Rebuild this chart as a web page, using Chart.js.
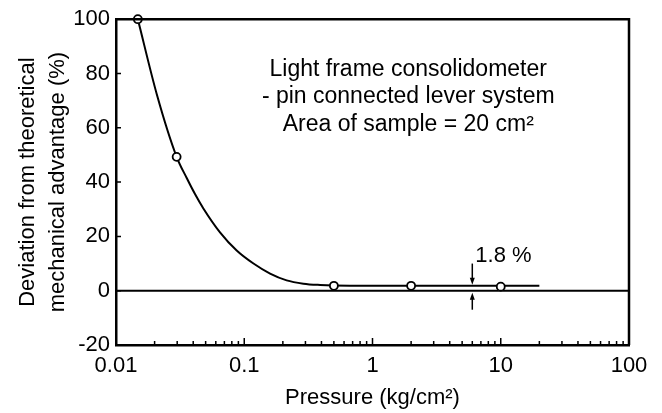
<!DOCTYPE html>
<html>
<head>
<meta charset="utf-8">
<script src="https://cdn.jsdelivr.net/npm/chart.js@4.4.1/dist/chart.umd.min.js"></script>
<style>
  html, body { margin: 0; padding: 0; background: #fff; }
  canvas { display: block; }
</style>
</head>
<body>
<canvas id="chart" width="662" height="413"></canvas>
<script>
const xTickValues = [0.01, 0.1, 1, 10, 100];
const xTickLabels = ['0.01', '0.1', '1', '10', '100'];
const yTickValues = [-20, 0, 20, 40, 60, 80, 100];

// curve
const curveX = [0.0148, 0.0209, 0.0297, 0.0356, 0.0413, 0.048, 0.0647, 0.0873, 0.118, 0.159, 0.214, 0.289, 0.39, 0.5, 1, 2, 5, 10, 20];
const curveY = [100, 72, 49.3, 41.5, 35.6, 30.3, 21.5, 14.8, 10.0, 6.3, 3.8, 2.6, 2.1, 1.9, 1.8, 1.8, 1.8, 1.8, 1.8];

// measured points
const pointX = [0.0148, 0.0297, 0.5, 2, 10];
const pointY = [100, 49.3, 1.8, 1.8, 1.5];

const noteLines = ['Light frame consolidometer', '- pin connected lever system', 'Area of sample = 20 cm\u00b2'];
const gapLabel = '1.8 %';
const gapX = 6;
const gapTop = 1.8;
const gapBottom = 0;

const FONT = "'Liberation Sans', Arial, Helvetica, sans-serif";
Chart.defaults.font.family = FONT;
Chart.defaults.color = '#000';

// minor ticks 2..9 in every decade
const xMinor = [];
xTickValues.slice(0, -1).forEach(d => {
  for (let m = 2; m <= 9; m++) xMinor.push(d * m);
});

function arrow(ctx, x, y0, y1) {
  const dir = y1 > y0 ? 1 : -1;
  ctx.beginPath();
  ctx.moveTo(x, y0);
  ctx.lineTo(x, y1 - dir * 5);
  ctx.stroke();
  ctx.beginPath();
  ctx.moveTo(x, y1);
  ctx.lineTo(x - 2.5, y1 - dir * 7);
  ctx.lineTo(x + 2.5, y1 - dir * 7);
  ctx.closePath();
  ctx.fill();
}

const decor = {
  id: 'decor',
  afterDraw(chart) {
    const { ctx, chartArea: a } = chart;
    const xs = chart.scales.x, ys = chart.scales.y;
    ctx.save();
    ctx.strokeStyle = '#000';
    ctx.fillStyle = '#000';

    // top and right frame
    ctx.lineWidth = 2.5;
    ctx.beginPath();
    ctx.moveTo(a.left, a.top);
    ctx.lineTo(a.right, a.top);
    ctx.lineTo(a.right, a.bottom);
    ctx.stroke();

    // inward ticks
    ctx.lineWidth = 1.5;
    ctx.beginPath();
    xTickValues.forEach(v => {
      const px = xs.getPixelForValue(v);
      ctx.moveTo(px, a.bottom);
      ctx.lineTo(px, a.bottom - 7);
    });
    xMinor.forEach(v => {
      const px = xs.getPixelForValue(v);
      ctx.moveTo(px, a.bottom);
      ctx.lineTo(px, a.bottom - 4);
    });
    yTickValues.forEach(v => {
      const py = ys.getPixelForValue(v);
      ctx.moveTo(a.left, py);
      ctx.lineTo(a.left + 5, py);
    });
    ctx.stroke();

    // gap arrows
    const ax = xs.getPixelForValue(gapX);
    ctx.lineWidth = 1.5;
    arrow(ctx, ax, ys.getPixelForValue(10), ys.getPixelForValue(gapTop) - 1);
    arrow(ctx, ax, ys.getPixelForValue(-7), ys.getPixelForValue(gapBottom) + 2);

    ctx.font = '22px ' + FONT;
    ctx.textBaseline = 'alphabetic';
    ctx.textAlign = 'left';
    ctx.fillText(gapLabel, ax + 3, ys.getPixelForValue(10.4));

    ctx.font = '23px ' + FONT;
    ctx.textAlign = 'center';
    const nx = xs.getPixelForValue(1.9);
    [79, 69, 59].forEach((v, i) => {
      ctx.fillText(noteLines[i], nx, ys.getPixelForValue(v));
    });
    ctx.restore();
  }
};

new Chart(document.getElementById('chart'), {
  type: 'scatter',
  data: {
    datasets: [
      {
        label: 'Measured',
        data: pointX.map((x, i) => ({ x, y: pointY[i] })),
        showLine: false,
        pointRadius: 4,
        pointBackgroundColor: '#fff',
        pointBorderColor: '#000',
        pointBorderWidth: 1.8,
        clip: false
      },
      {
        label: 'Curve',
        data: curveX.map((x, i) => ({ x, y: curveY[i] })),
        showLine: true,
        cubicInterpolationMode: 'monotone',
        borderColor: '#000',
        borderWidth: 2,
        pointRadius: 0
      },
      {
        label: 'Zero',
        data: [{ x: xTickValues[0], y: 0 }, { x: xTickValues[xTickValues.length - 1], y: 0 }],
        showLine: true,
        borderColor: '#000',
        borderWidth: 2,
        pointRadius: 0
      }
    ]
  },
  options: {
    responsive: false,
    animation: false,
    events: [],
    layout: { padding: { top: 17, right: 33, left: 0, bottom: 0 } },
    plugins: { legend: { display: false }, tooltip: { enabled: false } },
    scales: {
      x: {
        type: 'logarithmic',
        min: 0.01,
        max: 100,
        afterBuildTicks: s => { s.ticks = xTickValues.map(v => ({ value: v })); },
        afterFit: s => { s.height = 68; },
        grid: { display: false, drawTicks: false },
        border: { display: true, color: '#000', width: 2.5 },
        ticks: {
          padding: 8,
          maxRotation: 0,
          autoSkip: false,
          font: { size: 22 },
          callback: (v, i) => xTickLabels[i]
        },
        title: {
          display: true,
          text: 'Pressure (kg/cm\u00b2)',
          font: { size: 22, lineHeight: 1.2 },
          padding: { top: 0, bottom: 2 }
        }
      },
      y: {
        min: -20,
        max: 100,
        afterBuildTicks: s => { s.ticks = yTickValues.map(v => ({ value: v })); },
        afterFit: s => { s.width = 116; },
        grid: { display: false, drawTicks: false },
        border: { display: true, color: '#000', width: 2.5 },
        ticks: { padding: 6, font: { size: 22 } },
        title: {
          display: true,
          text: ['Deviation from theoretical', 'mechanical advantage (%)'],
          font: { size: 22, lineHeight: 30 / 22 },
          padding: { top: 13, bottom: 0 }
        }
      }
    }
  },
  plugins: [decor]
});
</script>
</body>
</html>
